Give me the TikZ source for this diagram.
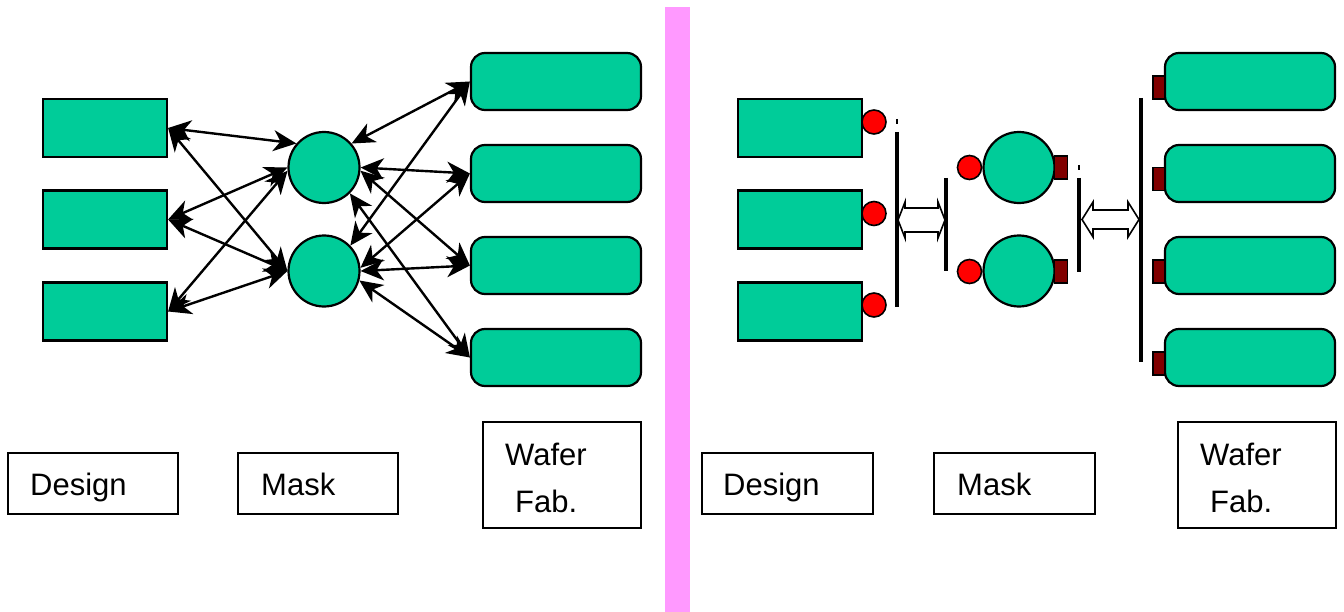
\documentclass[tikz,border=0pt]{standalone}
\usepackage{fontspec}
\setmainfont{Liberation Sans}
\usetikzlibrary{arrows.meta}
\definecolor{tealfill}{HTML}{00CC99}
\definecolor{pinkbar}{HTML}{FF99FF}
\definecolor{darkredsq}{HTML}{800000}
\begin{document}
\begin{tikzpicture}[x=1bp,y=-1bp,
 dbox/.style={draw, line width=2.2bp, fill=tealfill, minimum width=124bp, minimum height=58bp, inner sep=0},
 mcirc/.style={draw, line width=2.2bp, fill=tealfill, circle, minimum size=71bp, inner sep=0},
 wbox/.style={draw, line width=2.2bp, fill=tealfill, rounded corners=14bp, minimum width=170bp, minimum height=57bp, inner sep=0},
 lbox/.style={draw, line width=1.6bp, inner sep=0},
 ltxt/.style={font=\fontsize{31bp}{36bp}\selectfont, inner sep=0, anchor=base west},
 conn/.style={line width=2.4bp, {Stealth[length=23bp,width=21bp,inset=7bp]}-{Stealth[length=23bp,width=21bp,inset=7bp]}},
 reddot/.style={draw, line width=1.6bp, fill=red, circle, minimum size=24bp, inner sep=0},
 sqbox/.style={draw, line width=1.6bp, fill=darkredsq, minimum width=13bp, minimum height=23bp, inner sep=0},
 busbar/.style={line width=4bp},
 tickmark/.style={line width=2bp},
 dblarrow/.style={draw, line width=1.6bp, fill=white, line join=miter}]
\useasboundingbox (0,0) rectangle (1344,612);
\fill[pinkbar] (665,7) rectangle (690,612);

% ---------- left panel ----------
\node[dbox] (d1) at (105,128) {};
\node[dbox] (d2) at (105,219.5) {};
\node[dbox] (d3) at (105,311.5) {};
\node[mcirc] (c1) at (324,167.5) {};
\node[mcirc] (c2) at (324,271) {};
\node[wbox] (w1) at (556,81.5) {};
\node[wbox] (w2) at (556,173.5) {};
\node[wbox] (w3) at (556,265.5) {};
\node[wbox] (w4) at (556,357.5) {};

\draw[conn] (d1.east) -- (c1.139);
\draw[conn] (d1.east) -- (c2.180);
\draw[conn] (d2.east) -- (c1.180);
\draw[conn] (d2.east) -- (c2.180);
\draw[conn] (d3.east) -- (c1.185);
\draw[conn] (d3.east) -- (c2.180);

\draw[conn] (c1.41) -- (w1.west);
\draw[conn] (c2.44) -- (w1.west);
\draw[conn] (c1.0) -- (w2.west);
\draw[conn] (c1.355) -- (w3.west);
\draw[conn] (c2.5) -- (w2.west);
\draw[conn] (c2.0) -- (w3.west);
\draw[conn] (c1.315) -- (w4.west);
\draw[conn] (c2.345) -- (w4.west);

\node[lbox, minimum width=170bp, minimum height=61bp] (ld) at (93,483.5) {};
\node[ltxt] (ldt) at (30,495) {Design};
\node[lbox, minimum width=160bp, minimum height=61bp] (lm) at (318,483.5) {};
\node[ltxt] (lmt) at (261,495) {Mask};
\node[lbox, minimum width=158bp, minimum height=106bp] (lw) at (562,475) {};
\node[ltxt] (lwt1) at (505,465) {Wafer};
\node[ltxt] (lwt2) at (515,512) {Fab.};

% ---------- right panel ----------
\node[dbox] (rd1) at (800,128) {};
\node[dbox] (rd2) at (800,219.5) {};
\node[dbox] (rd3) at (800,311.5) {};
\node[reddot] (rp1) at (874,122) {};
\node[reddot] (rp2) at (874,213.5) {};
\node[reddot] (rp3) at (874,305) {};

\draw[busbar] (897,132) -- (897,307);
\draw[tickmark] (897,119) -- (897,124);
\draw[dblarrow] (898,220) -- (905,202) -- (905,208) -- (938,208) -- (938,202) -- (945,220)
  -- (938,238) -- (938,232) -- (905,232) -- (905,238) -- cycle;
\draw[busbar] (946,178) -- (946,271);

\node[mcirc] (rc1) at (1019,167.5) {};
\node[mcirc] (rc2) at (1019,271) {};
\node[reddot] (rm1) at (969.5,167.5) {};
\node[reddot] (rm2) at (969.5,271.5) {};
\node[sqbox] (rs1) at (1061,167.5) {};
\node[sqbox] (rs2) at (1061,271.5) {};

\draw[busbar] (1079,178) -- (1079,272);
\draw[tickmark] (1079,165) -- (1079,170);
\draw[dblarrow] (1082,219.5) -- (1093,202) -- (1093,210) -- (1128,210) -- (1128,202) -- (1139,219.5)
  -- (1128,237) -- (1128,229) -- (1093,229) -- (1093,237) -- cycle;
\draw[busbar] (1141,98) -- (1141,362);

\node[wbox] (rw1) at (1250,81.5) {};
\node[wbox] (rw2) at (1250,173.5) {};
\node[wbox] (rw3) at (1250,265.5) {};
\node[wbox] (rw4) at (1250,357.5) {};
\node[sqbox, minimum width=12bp] (rq1) at (1159,87.5) {};
\node[sqbox, minimum width=12bp] (rq2) at (1159,179) {};
\node[sqbox, minimum width=12bp] (rq3) at (1159,271.5) {};
\node[sqbox, minimum width=12bp] (rq4) at (1159,363.5) {};

\node[lbox, minimum width=171bp, minimum height=61bp] (rdl) at (787.5,483.5) {};
\node[ltxt] (rdlt) at (723,495) {Design};
\node[lbox, minimum width=161bp, minimum height=61bp] (rml) at (1014.5,483.5) {};
\node[ltxt] (rmlt) at (957,495) {Mask};
\node[lbox, minimum width=158bp, minimum height=106bp] (rwl) at (1257,475) {};
\node[ltxt] (rwlt1) at (1200,465) {Wafer};
\node[ltxt] (rwlt2) at (1210,512) {Fab.};
\end{tikzpicture}
\end{document}
